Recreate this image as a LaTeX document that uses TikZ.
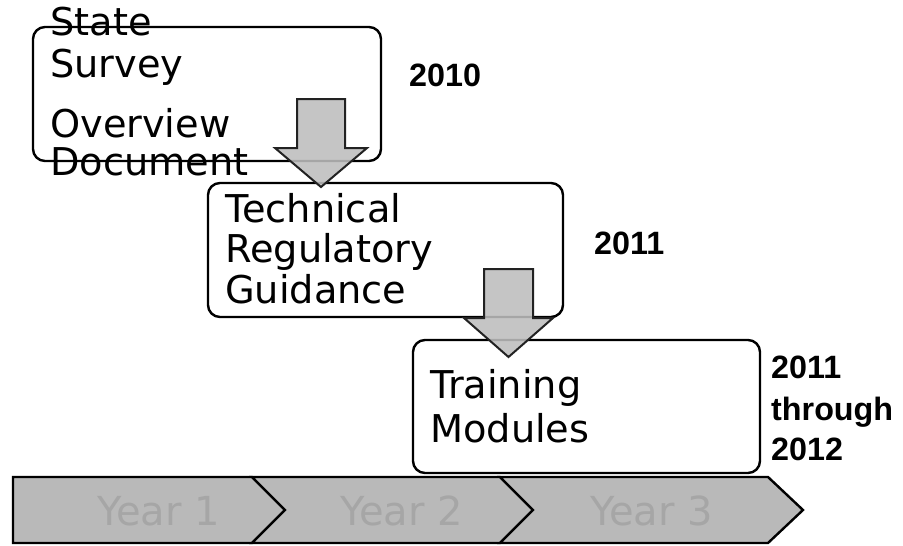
\documentclass[tikz,border=0pt]{standalone}
\usepackage{fontspec}
\setmainfont{DejaVu Sans}
\newfontfamily\labelfont{Liberation Sans}
\definecolor{chevfill}{HTML}{B9B9B9}
\definecolor{chevtext}{HTML}{A6A6A6}
\definecolor{arrowfill}{HTML}{BDBDBD}
\definecolor{arrowline}{HTML}{222222}
\begin{document}
\begin{tikzpicture}[x=1pt,y=-1pt,
  stagebox/.style={draw=black, line width=2.4pt, fill=white, rounded corners=12pt,
    anchor=north west, inner sep=0pt, outer sep=0pt},
  blockarrow/.style={draw=arrowline, line width=2pt, fill=arrowfill, fill opacity=0.88, line join=miter},
  chevron/.style={draw=black, line width=2.4pt, fill=chevfill, line join=miter},
  boxtext/.style={inner sep=0pt, anchor=base west, font=\fontsize{38.3}{40}\selectfont},
  yeartext/.style={inner sep=0pt, anchor=base west, font=\labelfont\bfseries\fontsize{32.3}{40}\selectfont},
  steptext/.style={inner sep=0pt, anchor=base west, text=chevtext, font=\fontsize{40}{44}\selectfont}]
\useasboundingbox (0,0) rectangle (903,546);
\fill[white] (0,0) rectangle (903,546);

% timeline chevrons
\draw[chevron] (13,477) -- (252,477) -- (285,510) -- (252,543) -- (13,543) -- cycle;
\draw[chevron] (252,477) -- (500,477) -- (533,510) -- (500,543) -- (252,543) -- (285,510) -- cycle;
\draw[chevron] (500,477) -- (768,477) -- (803,510) -- (768,543) -- (500,543) -- (533,510) -- cycle;
\node[steptext] (y1) at (97,525) {Year 1};
\node[steptext] (y2) at (340,525) {Year 2};
\node[steptext] (y3) at (590,525) {Year 3};

% stage boxes
\node[stagebox, minimum width=348, minimum height=134] (survey) at (33,27) {};
\node[stagebox, minimum width=355, minimum height=134] (guidance) at (208,183) {};
\node[stagebox, minimum width=347, minimum height=133] (training) at (413,340) {};

% block arrows between stages
\draw[blockarrow] (297,99) -- (345,99) -- (345,148) -- (367,148) -- (321,187)
  -- (275,148) -- (297,148) -- cycle;
\draw[blockarrow] (484,269) -- (533,269) -- (533,318) -- (553,318) -- (508.5,357)
  -- (464,318) -- (484,318) -- cycle;

% box texts
\node[boxtext] (t1a) at (50,35) {State};
\node[boxtext] (t1b) at (50,77) {Survey};
\node[boxtext] (t1c) at (50,137) {Overview};
\node[boxtext] (t1d) at (50,175) {Document};
\node[boxtext] (t2a) at (225,222) {Technical};
\node[boxtext] (t2b) at (225,262) {Regulatory};
\node[boxtext] (t2c) at (225,303) {Guidance};
\node[boxtext] (t3a) at (430,398) {Training};
\node[boxtext] (t3b) at (430,442) {Modules};

% dates
\node[yeartext] (d1) at (409,86) {2010};
\node[yeartext] (d2) at (594,254) {2011};
\node[yeartext] (d3a) at (771,378) {2011};
\node[yeartext] (d3b) at (771,420) {through};
\node[yeartext] (d3c) at (771,460) {2012};
\end{tikzpicture}
\end{document}
